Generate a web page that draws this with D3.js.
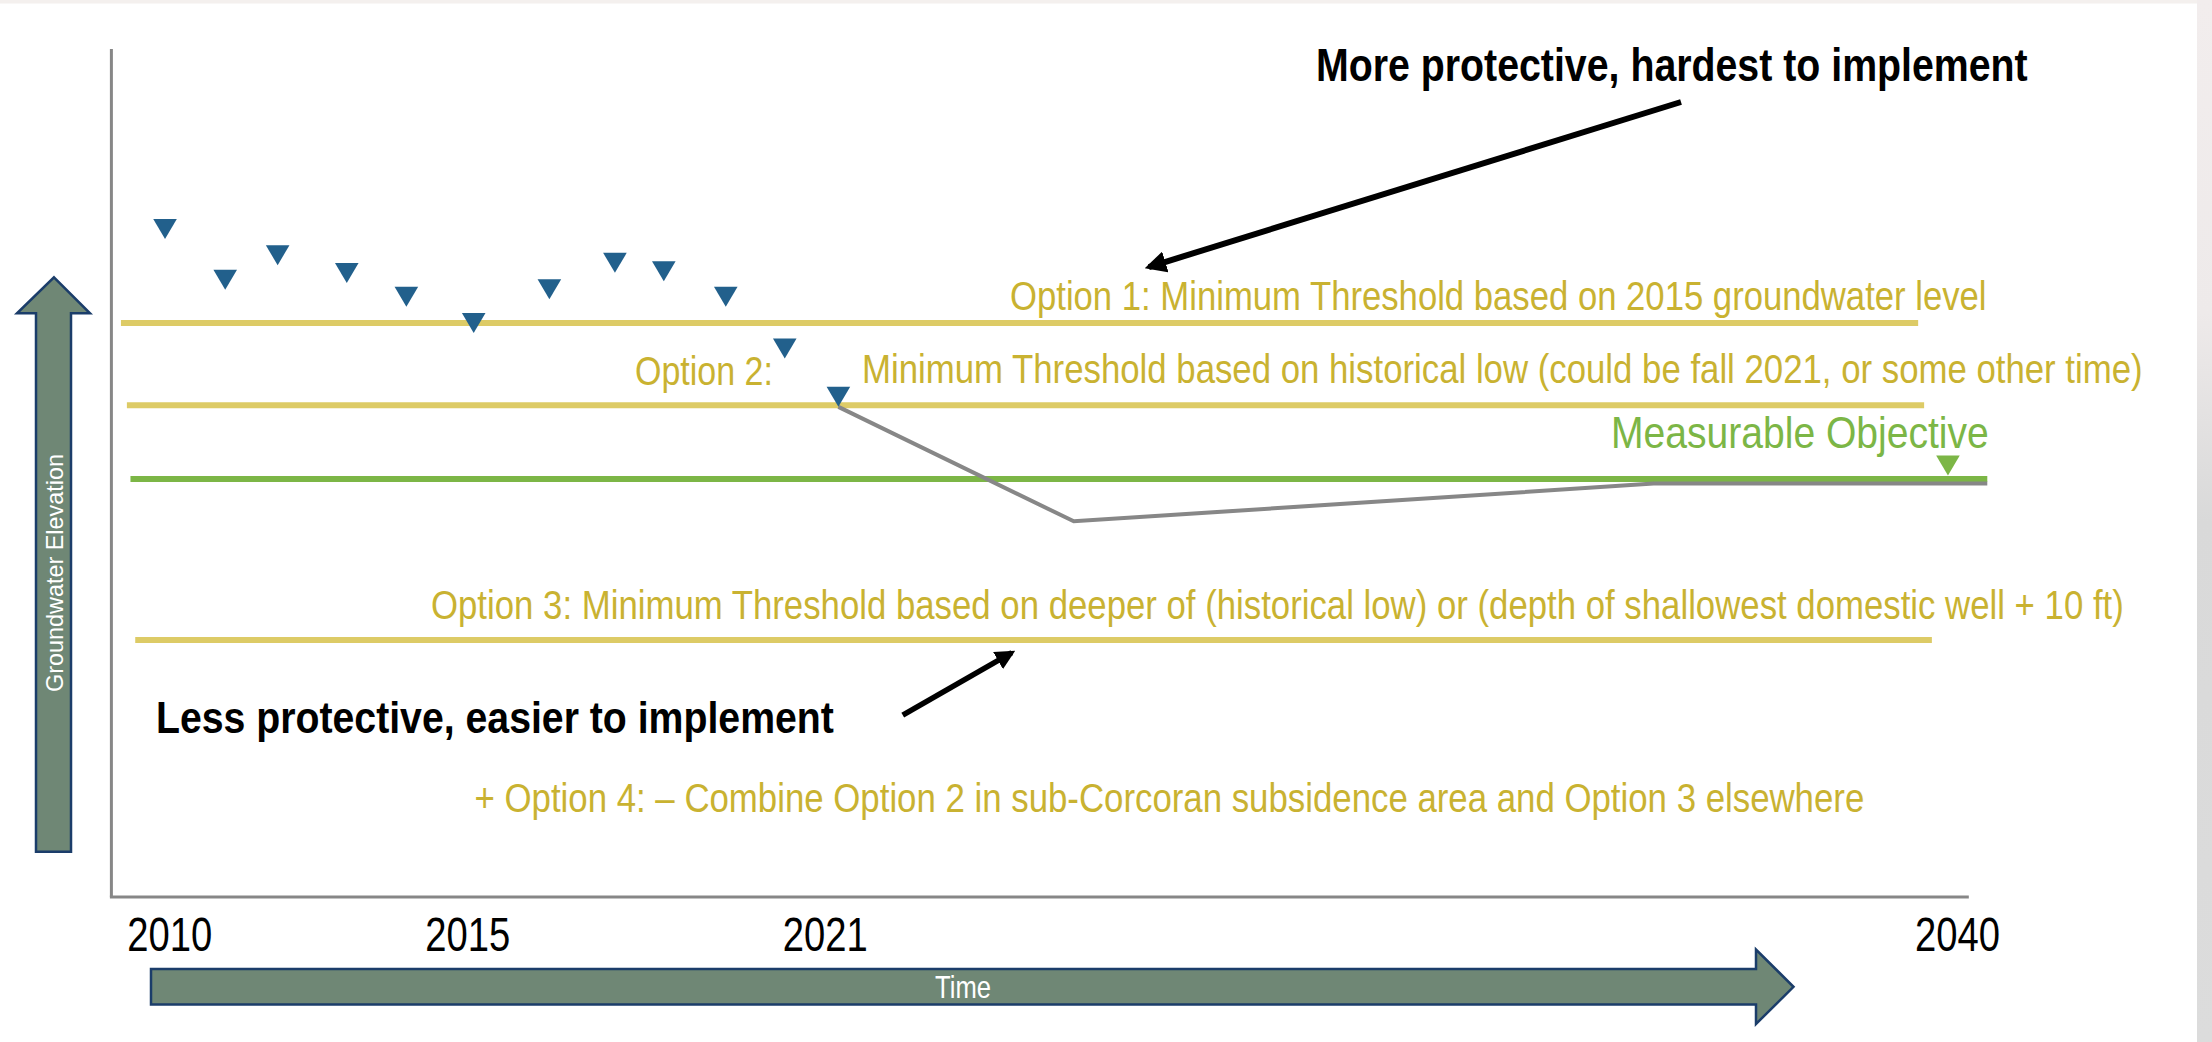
<!DOCTYPE html>
<html>
<head>
<meta charset="utf-8">
<script src="https://cdn.jsdelivr.net/npm/d3@7"></script>
<style>
  body { margin: 0; background: #fff; }
  text { font-family: "Liberation Sans Narrow", "Arial Narrow", "Liberation Sans", Arial, sans-serif; }
</style>
</head>
<body>
<script>
// groundwater level readings (decimal year, relative elevation)
const obsYears  = [2009.93, 2010.94, 2011.82, 2012.98, 2013.98, 2015.11, 2016.38, 2017.48, 2018.30, 2019.34, 2020.33, 2021.23];
const obsLevels = [77.6, 71.6, 74.5, 72.4, 69.6, 66.5, 70.5, 73.6, 72.6, 69.6, 63.5, 57.8];

// threshold / objective lines
const thresholdNames  = ["Option 1", "Option 2", "Measurable Objective", "Option 3"];
const thresholdLevels = [67.7, 58.0, 49.3, 30.3];
const thresholdStart  = [2009.19, 2009.29, 2009.35, 2009.43];
const thresholdEnd    = [2039.35, 2039.45, 2040.51, 2039.58];

// projected path back up to the objective
const projYears  = [2021.23, 2025.18, 2034.91, 2040.51];
const projLevels = [57.8, 44.3, 48.75, 48.75];

// objective marker
const objYear = 2039.85, objLevel = 49.7;

const yearTicks = [2010, 2015, 2021, 2040];

const labelMore  = "More protective, hardest to implement";
const labelLess  = "Less protective, easier to implement";
const labelOpt1  = "Option 1: Minimum Threshold based on 2015 groundwater level";
const labelOpt2a = "Option 2:";
const labelOpt2b = "Minimum Threshold based on historical low (could be fall 2021, or some other time)";
const labelMO    = "Measurable Objective";
const labelOpt3  = "Option 3: Minimum Threshold based on deeper of (historical low) or (depth of shallowest domestic well + 10 ft)";
const labelOpt4  = "+ Option 4: \u2013 Combine Option 2 in sub-Corcoran subsidence area and Option 3 elsewhere";

// annotation arrows [fromYear, fromLevel, toYear, toLevel]
const arrowMore = [2035.37, 93.75, 2026.44, 74.29];
const arrowLess = [2022.31, 21.46, 2024.14, 28.81];

const W = 2212, H = 1042;
const MUSTARD = "#c9b231", MUSTARD_LINE = "#ddcb66", GREEN = "#7cb646",
      BLUE = "#22608c", GREY = "#878787", ARROW_FILL = "#6f8775", NAVY = "#1b3d6a";

const svg = d3.select("body").append("svg").attr("width", W).attr("height", H);

// squeeze a text horizontally so it spans the wanted width (slide uses a narrow face)
function fitWidth(sel, width) {
  sel.each(function() {
    const natural = this.getComputedTextLength();
    const sx = natural > 0 ? width / natural : 1;
    const t = d3.select(this).attr("transform") || "";
    d3.select(this).attr("transform", t + ` scale(${sx},1)`);
  });
}

// slide background bits
const defs = svg.append("defs");
const g1 = defs.append("linearGradient").attr("id", "side").attr("x1", 0).attr("y1", 0).attr("x2", 0).attr("y2", 1);
g1.append("stop").attr("offset", "0%").attr("stop-color", "#f2eded");
g1.append("stop").attr("offset", "30%").attr("stop-color", "#eeeaea");
g1.append("stop").attr("offset", "50%").attr("stop-color", "#d9d9d9");
g1.append("stop").attr("offset", "100%").attr("stop-color", "#dcdcdc");
svg.append("rect").attr("x", 2197).attr("y", 0).attr("width", 15).attr("height", H).attr("fill", "url(#side)");
svg.append("rect").attr("x", 0).attr("y", 0).attr("width", 2197).attr("height", 3.5).attr("fill", "#f4f0ee");

defs.append("marker").attr("id", "head")
  .attr("viewBox", "0 -5 10 10").attr("refX", 8).attr("refY", 0)
  .attr("markerWidth", 3.6).attr("markerHeight", 3.6).attr("orient", "auto")
  .append("path").attr("d", "M0,-5L10,0L0,5Z").attr("fill", "#000");

const x = d3.scaleLinear().domain([2010, 2040]).range([169.2, 1956.9]);
const y = d3.scaleLinear().domain([0, 100]).range([897, 49]);

// axes
svg.append("line")
  .attr("x1", x(2009.03)).attr("x2", x(2009.03)).attr("y1", y(100)).attr("y2", y(0))
  .attr("stroke", GREY).attr("stroke-width", 3);
svg.append("line")
  .attr("x1", x(2009.03) - 1.5).attr("x2", x(2040.2)).attr("y1", y(0)).attr("y2", y(0))
  .attr("stroke", GREY).attr("stroke-width", 3);

const xAxis = svg.append("g").attr("transform", `translate(0,${y(0)})`)
  .call(d3.axisBottom(x).tickValues(yearTicks).tickFormat(d3.format("d")).tickSize(0).tickPadding(20));
xAxis.select(".domain").remove();
xAxis.selectAll("text")
  .attr("font-size", 48).attr("fill", "#000")
  .style("font-family", "'Liberation Sans Narrow', 'Arial Narrow', 'Liberation Sans', Arial, sans-serif")
  .call(fitWidth, 85);

// threshold lines
const lineColors = [MUSTARD_LINE, MUSTARD_LINE, GREEN, MUSTARD_LINE];
svg.selectAll("line.threshold")
  .data(thresholdNames.map((n, i) => ({name: n, level: thresholdLevels[i], s: thresholdStart[i], e: thresholdEnd[i], c: lineColors[i]})))
  .enter().append("line").attr("class", "threshold")
  .attr("x1", d => x(d.s)).attr("x2", d => x(d.e))
  .attr("y1", d => y(d.level)).attr("y2", d => y(d.level))
  .attr("stroke", d => d.c).attr("stroke-width", 6);

// projection
svg.append("path")
  .datum(projYears.map((t, i) => [t, projLevels[i]]))
  .attr("d", d3.line().x(d => x(d[0])).y(d => y(d[1])))
  .attr("fill", "none").attr("stroke", GREY).attr("stroke-width", 4);

// observations (triangle tip sits on the level)
const tri = "M-11.8,-20L11.8,-20L0,0Z";
svg.selectAll("path.obs")
  .data(obsYears.map((t, i) => ({t: t, v: obsLevels[i]})))
  .enter().append("path").attr("class", "obs")
  .attr("d", tri)
  .attr("transform", d => `translate(${x(d.t)},${y(d.v)})`)
  .attr("fill", BLUE);

svg.append("path").attr("d", tri)
  .attr("transform", `translate(${x(objYear)},${y(objLevel)})`)
  .attr("fill", GREEN);

// text helper
function addText(str, tx, ty, size, color, width, weight) {
  return svg.append("text")
    .attr("transform", `translate(${tx},${ty})`)
    .attr("font-size", size).attr("font-weight", weight || "normal")
    .attr("fill", color)
    .text(str)
    .call(fitWidth, width);
}

addText(labelMore, 1316, 80.5, 46, "#000", 712, "bold");
addText(labelOpt1, 1010, 310, 40, MUSTARD, 977);
addText(labelOpt2a, 635, 385, 40, MUSTARD, 138);
addText(labelOpt2b, 862, 383, 40, MUSTARD, 1281);
addText(labelMO, 1611, 448, 45, GREEN, 378);
addText(labelOpt3, 431, 619, 40, MUSTARD, 1693);
addText(labelLess, 156, 732.5, 44, "#000", 678, "bold");
addText(labelOpt4, 474.5, 812, 40, MUSTARD, 1390);

// annotation arrows
[arrowMore, arrowLess].forEach((a, i) => {
  svg.append("line")
    .attr("x1", x(a[0])).attr("y1", y(a[1]))
    .attr("x2", x(a[2])).attr("y2", y(a[3]))
    .attr("stroke", "#000").attr("stroke-width", i === 0 ? 6 : 5.5)
    .attr("marker-end", "url(#head)");
});

// block arrows for the axis names
const up = d3.path();
up.moveTo(54, 277.3); up.lineTo(90, 313.3); up.lineTo(71, 313.3); up.lineTo(71, 851.7);
up.lineTo(36, 851.7); up.lineTo(36, 313.3); up.lineTo(17, 313.3); up.closePath();
svg.append("path").attr("d", up.toString()).attr("fill", ARROW_FILL).attr("stroke", NAVY).attr("stroke-width", 2.5);

const right = d3.path();
right.moveTo(151, 969); right.lineTo(1756, 969); right.lineTo(1756, 949.5); right.lineTo(1793.5, 986.8);
right.lineTo(1756, 1024); right.lineTo(1756, 1004.5); right.lineTo(151, 1004.5); right.closePath();
svg.append("path").attr("d", right.toString()).attr("fill", ARROW_FILL).attr("stroke", NAVY).attr("stroke-width", 2.5);

svg.append("text")
  .attr("transform", "translate(963,998)").attr("text-anchor", "middle")
  .attr("font-size", 31).attr("fill", "#fff")
  .text("Time")
  .call(fitWidth, 56);

svg.append("text")
  .attr("transform", "translate(54,573) rotate(-90)")
  .attr("text-anchor", "middle").attr("dy", "0.36em")
  .attr("font-size", 24).attr("fill", "#fff")
  .style("font-family", "'Liberation Sans', Arial, sans-serif")
  .text("Groundwater Elevation")
  .call(fitWidth, 238);
</script>
</body>
</html>
